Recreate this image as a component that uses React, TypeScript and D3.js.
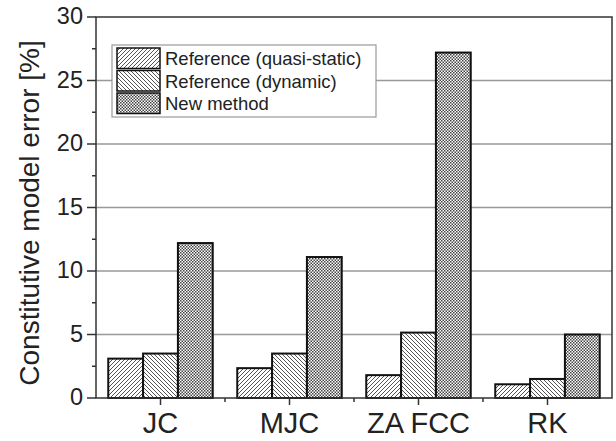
import React from "react";
import * as d3 from "d3";

const categories = ["JC", "MJC", "ZA FCC", "RK"];
const seriesNames = ["Reference (quasi-static)", "Reference (dynamic)", "New method"];
const quasiStatic = [3.1, 2.35, 1.8, 1.08];
const dynamic = [3.5, 3.5, 5.15, 1.5];
const newMethod = [12.2, 11.1, 27.2, 5.0];
const yTicks = [0, 5, 10, 15, 20, 25, 30];
const patternIds = ["hatchA", "hatchB", "cross"];

export default function App() {
  const W = 616, H = 441;
  const left = 96, right = 612, top = 17, bottom = 398;
  const x = d3.scaleBand<string>().domain(categories).range([left, right]).paddingInner(0.19).paddingOuter(0.095);
  const sub = d3.scaleBand<number>().domain([0, 1, 2]).range([0, x.bandwidth()]);
  const y = d3.scaleLinear().domain([0, 30]).range([bottom, top]);
  const series = [quasiStatic, dynamic, newMethod];
  const minor = d3.range(2.5, 30, 5);
  const font = "'Liberation Sans', Arial, sans-serif";
  const step = x.step();
  return (
    <svg width={W} height={H} style={{ position: "absolute", left: 0, top: 0, background: "#fff" }}>
      <defs>
        <pattern id="hatchA" patternUnits="userSpaceOnUse" width="4" height="4">
          <rect width="4" height="4" fill="#fff" />
          <path d="M-1,1 l2,-2 M0,4 l4,-4 M3,5 l2,-2" stroke="#555" strokeWidth="1" />
        </pattern>
        <pattern id="hatchB" patternUnits="userSpaceOnUse" width="4" height="4">
          <rect width="4" height="4" fill="#fff" />
          <path d="M-1,3 l2,2 M0,0 l4,4 M3,-1 l2,2" stroke="#555" strokeWidth="1" />
        </pattern>
        <pattern id="cross" patternUnits="userSpaceOnUse" width="3" height="3">
          <rect width="3" height="3" fill="#fff" />
          <rect width="1.5" height="1.5" fill="#444" />
          <rect x="1.5" y="1.5" width="1.5" height="1.5" fill="#444" />
        </pattern>
      </defs>
      {yTicks.filter(t => t > 0 && t < 30).map(t => (
        <line key={t} x1={left} x2={right} y1={y(t)} y2={y(t)} stroke="#999" strokeWidth={1.5} />
      ))}
      {categories.map((c, i) =>
        series.map((s, j) => (
          <rect key={c + j} x={(x(c) as number) + (sub(j) as number)} y={y(s[i])}
            width={sub.bandwidth()} height={bottom - y(s[i])}
            fill={`url(#${patternIds[j]})`} stroke="#111" strokeWidth={2} />
        ))
      )}
      <rect x={left} y={top} width={right - left} height={bottom - top} fill="none" stroke="#333" strokeWidth={1.5} />
      {yTicks.map(t => (
        <g key={t}>
          <line x1={left - 9} x2={left} y1={y(t)} y2={y(t)} stroke="#333" strokeWidth={1.5} />
          <text x={left - 13} y={y(t)} dy="0.3em" textAnchor="end" fontFamily={font} fontSize={23.5} fill="#222">{t}</text>
        </g>
      ))}
      {minor.map(t => (
        <line key={t} x1={left - 4} x2={left} y1={y(t)} y2={y(t)} stroke="#333" strokeWidth={1.5} />
      ))}
      {categories.map((c, i) => {
        const cx = (x(c) as number) + x.bandwidth() / 2;
        return (
          <g key={c}>
            <line x1={cx} x2={cx} y1={bottom} y2={bottom + 7} stroke="#333" strokeWidth={1.5} />
            {i > 0 && <line x1={cx - step / 2} x2={cx - step / 2} y1={bottom} y2={bottom + 4} stroke="#333" strokeWidth={1.5} />}
            <text x={cx} y={433} textAnchor="middle" fontFamily={font} fontSize={29} fill="#222">{c}</text>
          </g>
        );
      })}
      <text transform={`translate(39,213) rotate(-90)`} textAnchor="middle" fontFamily={font} fontSize={28} fill="#222">
        Constitutive model error [%]
      </text>
      <g>
        <rect x={112} y={45} width={264} height={72} fill="#fff" stroke="#999" strokeWidth={1.2} />
        {seriesNames.map((n, j) => (
          <g key={n}>
            <rect x={117} y={48 + j * 22.5} width={43} height={20.5} fill={`url(#${patternIds[j]})`} stroke="#111" strokeWidth={1.5} />
            <text x={165} y={58.5 + j * 22.5} dy="0.36em" fontFamily={font} fontSize={18.5} fill="#222">{n}</text>
          </g>
        ))}
      </g>
    </svg>
  );
}
